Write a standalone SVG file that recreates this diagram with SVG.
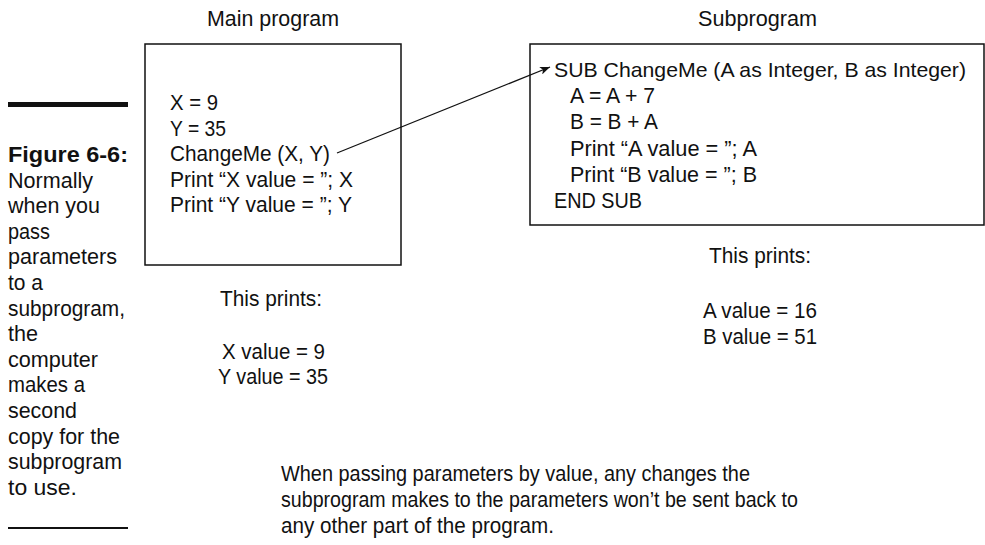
<svg xmlns="http://www.w3.org/2000/svg" width="985" height="545" viewBox="0 0 985 545">
<style>
text{font-family:"Liberation Sans Narrow","Liberation Sans",Arial,sans-serif;font-size:22.5px;fill:#111}
.b{font-weight:bold}
.s{font-size:21px}
.box{fill:#fff;stroke:#111;stroke-width:1.5}
.conn{stroke:#111;stroke-width:1.3;fill:none}
</style>
<defs>
<marker id="ah" viewBox="0 0 10 8" refX="10" refY="4" markerWidth="10" markerHeight="8" markerUnits="userSpaceOnUse" orient="auto">
<path d="M0,0 L10,4 L0,8 L2.5,4 Z" fill="#111"/>
</marker>
</defs>
<rect width="985" height="545" fill="#fff"/>

<g id="caption">
<rect x="8" y="102" width="120" height="5" fill="#111"/>
<text class="b" x="8" y="162" textLength="120" lengthAdjust="spacingAndGlyphs">Figure 6-6:</text>
<text x="8" y="187.6" textLength="85" lengthAdjust="spacingAndGlyphs">Normally</text>
<text x="8" y="213.2" textLength="92" lengthAdjust="spacingAndGlyphs">when you</text>
<text x="8" y="238.8" textLength="42" lengthAdjust="spacingAndGlyphs">pass</text>
<text x="8" y="264.4" textLength="109" lengthAdjust="spacingAndGlyphs">parameters</text>
<text x="8" y="290" textLength="35" lengthAdjust="spacingAndGlyphs">to a</text>
<text x="8" y="315.6" textLength="117" lengthAdjust="spacingAndGlyphs">subprogram,</text>
<text x="8" y="341.2" textLength="30" lengthAdjust="spacingAndGlyphs">the</text>
<text x="8" y="366.8" textLength="90" lengthAdjust="spacingAndGlyphs">computer</text>
<text x="8" y="392.4" textLength="77" lengthAdjust="spacingAndGlyphs">makes a</text>
<text x="8" y="418" textLength="69" lengthAdjust="spacingAndGlyphs">second</text>
<text x="8" y="443.6" textLength="112" lengthAdjust="spacingAndGlyphs">copy for the</text>
<text x="8" y="469.2" textLength="114" lengthAdjust="spacingAndGlyphs">subprogram</text>
<text x="8" y="494.8" textLength="69" lengthAdjust="spacingAndGlyphs">to use.</text>
<rect x="8" y="527" width="120" height="2" fill="#111"/>
</g>

<g id="main">
<text x="207" y="26" textLength="132" lengthAdjust="spacingAndGlyphs">Main program</text>
<rect class="box" x="145" y="44" width="256" height="221"/>
<text x="170" y="110" textLength="48" lengthAdjust="spacingAndGlyphs">X = 9</text>
<text x="170" y="135.5" textLength="56" lengthAdjust="spacingAndGlyphs">Y = 35</text>
<text x="170" y="161" textLength="160" lengthAdjust="spacingAndGlyphs">ChangeMe (X, Y)</text>
<text x="170" y="186.5" textLength="183" lengthAdjust="spacingAndGlyphs">Print “X value = ”; X</text>
<text x="170" y="212" textLength="182" lengthAdjust="spacingAndGlyphs">Print “Y value = ”; Y</text>
</g>

<g id="main-output">
<text x="220" y="306" textLength="102" lengthAdjust="spacingAndGlyphs">This prints:</text>
<text x="222" y="359" textLength="103" lengthAdjust="spacingAndGlyphs">X value = 9</text>
<text x="218" y="384" textLength="110" lengthAdjust="spacingAndGlyphs">Y value = 35</text>
</g>

<g id="sub">
<text x="698" y="26" textLength="119" lengthAdjust="spacingAndGlyphs">Subprogram</text>
<rect class="box" x="530" y="44" width="454" height="181"/>
<text class="s" x="554" y="77" textLength="412" lengthAdjust="spacingAndGlyphs">SUB ChangeMe (A as Integer, B as Integer)</text>
<text x="570" y="103.2" textLength="85" lengthAdjust="spacingAndGlyphs">A = A + 7</text>
<text x="570" y="129.4" textLength="88" lengthAdjust="spacingAndGlyphs">B = B + A</text>
<text x="570" y="155.6" textLength="187" lengthAdjust="spacingAndGlyphs">Print “A value = ”; A</text>
<text x="570" y="181.8" textLength="187" lengthAdjust="spacingAndGlyphs">Print “B value = ”; B</text>
<text x="554" y="208" textLength="88" lengthAdjust="spacingAndGlyphs">END SUB</text>
</g>

<g id="sub-output">
<text x="709" y="263" textLength="102" lengthAdjust="spacingAndGlyphs">This prints:</text>
<text x="703" y="318" textLength="114" lengthAdjust="spacingAndGlyphs">A value = 16</text>
<text x="703" y="344" textLength="114" lengthAdjust="spacingAndGlyphs">B value = 51</text>
</g>

<g id="note">
<text x="281" y="481" textLength="469" lengthAdjust="spacingAndGlyphs">When passing parameters by value, any changes the</text>
<text x="281" y="507" textLength="517" lengthAdjust="spacingAndGlyphs">subprogram makes to the parameters won’t be sent back to</text>
<text x="281" y="533" textLength="273" lengthAdjust="spacingAndGlyphs">any other part of the program.</text>
</g>

<g id="connectors">
<line class="conn" x1="337" y1="153" x2="550" y2="67" marker-end="url(#ah)"/>
</g>
</svg>
